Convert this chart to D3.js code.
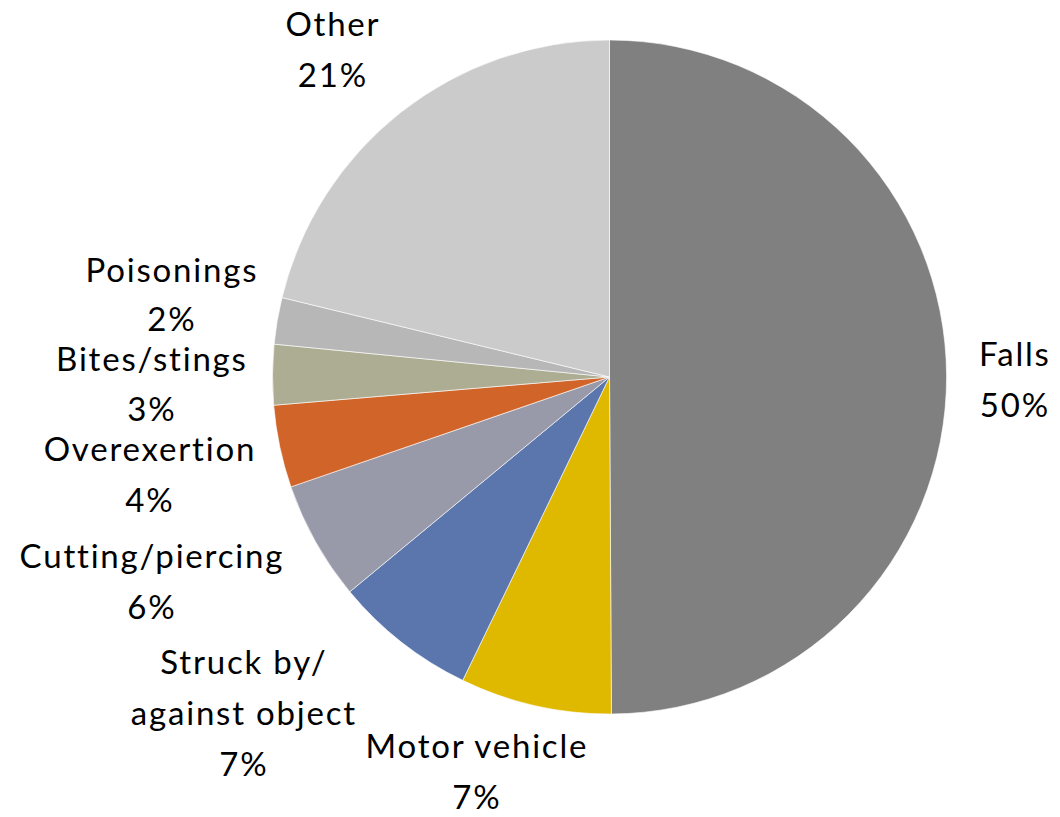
<!DOCTYPE html>
<html>
<head>
<meta charset="utf-8">
<script src="https://cdn.jsdelivr.net/npm/d3@7"></script>
<style>
  html, body { margin: 0; padding: 0; background: #fff; }
  svg { display: block; }
  text { font-family: "Lato", "Open Sans", sans-serif; fill: #000; }
</style>
</head>
<body>
<svg id="chart" width="1060" height="817"></svg>
<script>
// ---- data ----
const categories = ["Falls", "Motor vehicle", "Struck by/against object", "Cutting/piercing", "Overexertion", "Bites/stings", "Poisonings", "Other"];
const values = [49.9, 7.26, 6.83, 5.71, 3.95, 2.89, 2.23, 21.21];
const percentLabels = ["50%", "7%", "7%", "6%", "4%", "3%", "2%", "21%"];
const labelLines = [["Falls"], ["Motor vehicle"], ["Struck by/", "against object"], ["Cutting/piercing"], ["Overexertion"], ["Bites/stings"], ["Poisonings"], ["Other"]];
const colors = ["#808080", "#DFB800", "#5B76AD", "#989AA9", "#D06429", "#ADAD94", "#B7B7B7", "#CBCBCB"];

// ---- layout ----
const cx = 609.5, cy = 377, R = 337;
// label block: center x, first baseline y, line gap
const labelAnchors = [
  [1014, 366, 51], [476, 758, 51], [243, 674, 51], [151, 568, 51], [149, 461, 51], [151, 371, 50], [171, 282, 49], [332, 36, 51]
];
const fontSize = 33;
const letterSpacing = 1.8;

const svg = d3.select("#chart");
const pie = d3.pie().sort(null).value(d => d.v);
const arc = d3.arc().innerRadius(0).outerRadius(R);
const data = categories.map((c, i) => ({ c, v: values[i], i }));
const color = d3.scaleOrdinal().domain(categories).range(colors);

const g = svg.append("g").attr("transform", `translate(${cx},${cy})`);
g.selectAll("path").data(pie(data)).join("path")
  .attr("d", arc)
  .attr("fill", d => color(d.data.c))
  .attr("stroke", "#ffffff")
  .attr("stroke-width", 0.6);

const lg = svg.append("g");
data.forEach((d, i) => {
  const lines = labelLines[i].concat([percentLabels[i]]);
  const [x, y, gap] = labelAnchors[i];
  lines.forEach((t, k) => {
    lg.append("text")
      .attr("x", x + letterSpacing / 2)
      .attr("y", y + k * gap)
      .attr("text-anchor", "middle")
      .attr("font-size", fontSize)
      .attr("letter-spacing", letterSpacing)
      .text(t);
  });
});
</script>
</body>
</html>
